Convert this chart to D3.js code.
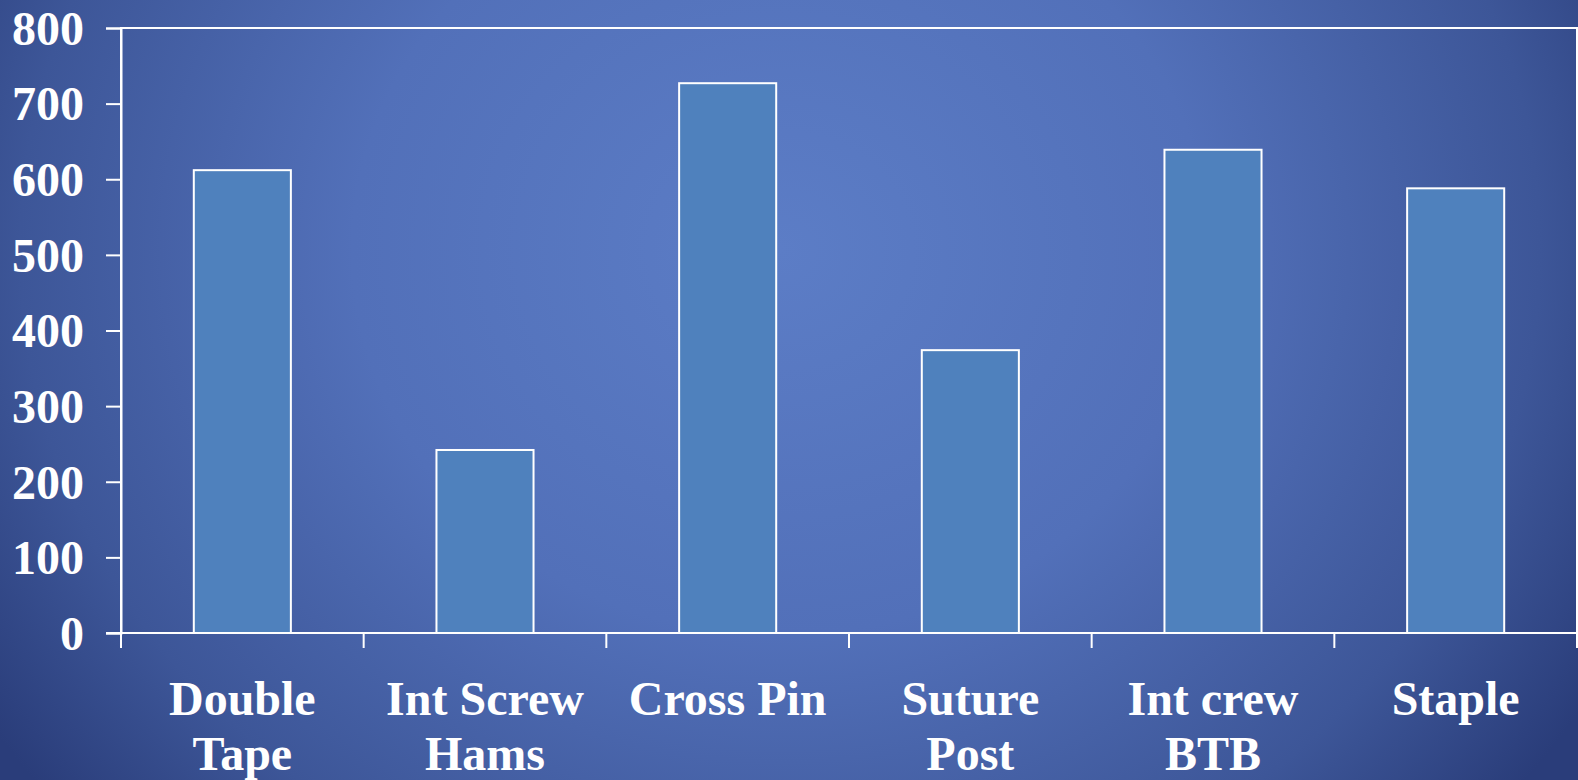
<!DOCTYPE html>
<html>
<head>
<meta charset="utf-8">
<script src="https://cdn.jsdelivr.net/npm/d3@7"></script>
<style>
  html, body { margin: 0; padding: 0; background: #2b3f7e; }
  svg { display: block; }
  text { font-family: "Liberation Serif", "Times New Roman", serif; font-weight: bold; fill: #fff; }
</style>
</head>
<body>
<div id="chart"></div>
<script>
// data
var categories = [["Double", "Tape"], ["Int Screw", "Hams"], ["Cross Pin"], ["Suture", "Post"], ["Int crew", "BTB"], ["Staple"]];
var values = [612, 242, 727, 374, 639, 588];
var yTicks = [0, 100, 200, 300, 400, 500, 600, 700, 800];

var width = 1578, height = 780;
var margin = {top: 28, right: 1, bottom: 147, left: 121};

var svg = d3.select("#chart").append("svg")
    .attr("width", width)
    .attr("height", height);

// background
var defs = svg.append("defs");
var grad = defs.append("radialGradient")
    .attr("id", "bg")
    .attr("gradientUnits", "userSpaceOnUse")
    .attr("cx", 780).attr("cy", 250)
    .attr("r", 950)
    .attr("gradientTransform", "translate(780,250) scale(1,0.9) translate(-780,-250)");
grad.append("stop").attr("offset", "0%").attr("stop-color", "#5c7dc6");
grad.append("stop").attr("offset", "45%").attr("stop-color", "#5270b9");
grad.append("stop").attr("offset", "80%").attr("stop-color", "#3d5698");
grad.append("stop").attr("offset", "100%").attr("stop-color", "#2a3d7a");

svg.append("rect")
    .attr("width", width).attr("height", height)
    .attr("fill", "url(#bg)");

var x = d3.scaleBand()
    .domain(d3.range(categories.length))
    .range([margin.left, width - margin.right]);

var y = d3.scaleLinear()
    .domain([0, 800])
    .range([height - margin.bottom, margin.top]);

var barW = x.bandwidth() * 0.4;

// plot frame
svg.append("rect")
    .attr("x", margin.left)
    .attr("y", y(800))
    .attr("width", x.range()[1] - margin.left)
    .attr("height", y(0) - y(800))
    .attr("fill", "none")
    .attr("stroke", "#fff")
    .attr("stroke-width", 2);

// bars
svg.selectAll(".bar")
    .data(values)
    .enter()
    .append("rect")
    .attr("class", "bar")
    .attr("x", function(d, i) { return x(i) + (x.bandwidth() - barW) / 2; })
    .attr("y", function(d) { return y(d); })
    .attr("width", barW)
    .attr("height", function(d) { return y(0) - y(d); })
    .attr("fill", "#4f81bd")
    .attr("stroke", "#fff")
    .attr("stroke-width", 2);

// y axis
var yAxis = svg.append("g")
    .attr("transform", "translate(" + margin.left + ",0)")
    .call(d3.axisLeft(y).tickValues(yTicks).tickSize(15).tickPadding(22));
yAxis.select(".domain").attr("stroke", "#fff").attr("stroke-width", 2);
yAxis.selectAll(".tick line").attr("stroke", "#fff").attr("stroke-width", 2);
yAxis.selectAll(".tick text")
    .attr("fill", "#fff")
    .style("font-family", '"Liberation Serif", serif')
    .style("font-weight", "bold")
    .style("font-size", "48px")
    .attr("dy", "0.34em");

// x axis
var xAxis = svg.append("g")
    .attr("transform", "translate(0," + y(0) + ")");
xAxis.append("line")
    .attr("x1", margin.left - 15).attr("x2", width)
    .attr("stroke", "#fff").attr("stroke-width", 2);
var edges = d3.range(categories.length + 1).map(function(i) {
    return i < categories.length ? x(i) : x.range()[1];
});
xAxis.selectAll(".xtick")
    .data(edges)
    .enter()
    .append("line")
    .attr("x1", function(d) { return d; })
    .attr("x2", function(d) { return d; })
    .attr("y1", 0).attr("y2", 15)
    .attr("stroke", "#fff").attr("stroke-width", 2);

var labels = xAxis.selectAll(".xlabel")
    .data(categories)
    .enter()
    .append("text")
    .attr("text-anchor", "middle")
    .attr("x", function(d, i) { return x(i) + x.bandwidth() / 2; })
    .attr("y", 82)
    .style("font-size", "48px");
labels.selectAll("tspan")
    .data(function(d) { return d; })
    .enter()
    .append("tspan")
    .attr("x", function() { return d3.select(this.parentNode).attr("x"); })
    .attr("dy", function(d, i) { return i === 0 ? 0 : 55; })
    .text(function(d) { return d; });
</script>
</body>
</html>
